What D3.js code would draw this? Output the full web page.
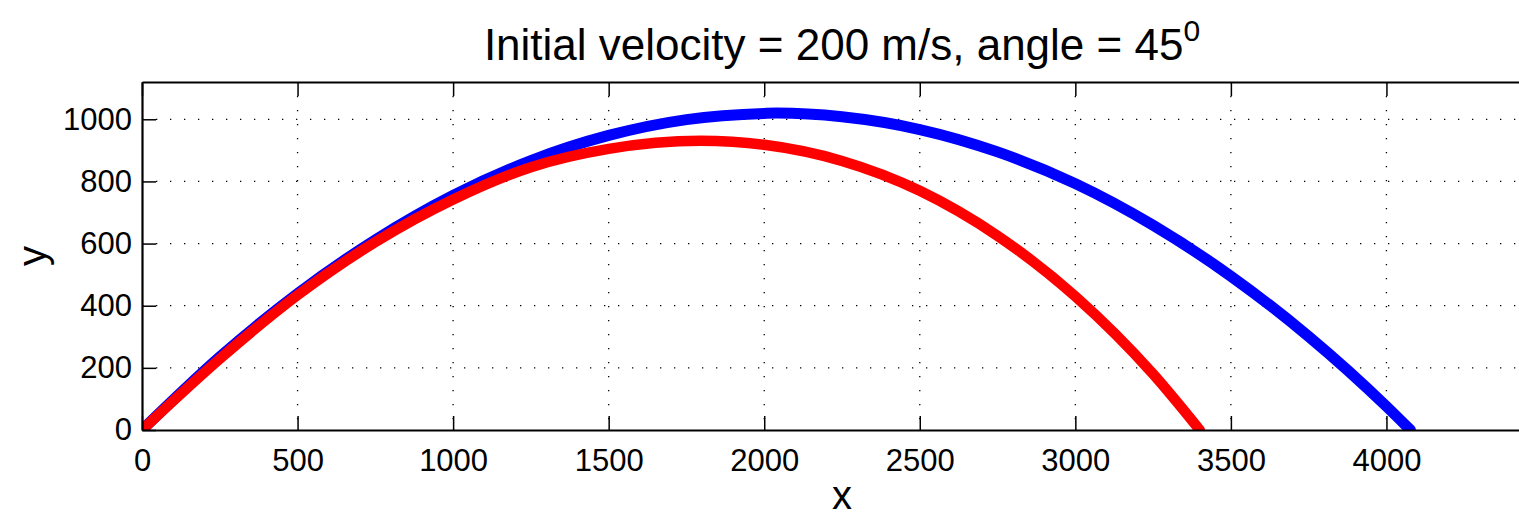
<!DOCTYPE html>
<html>
<head>
<meta charset="utf-8">
<script src="https://cdn.jsdelivr.net/npm/d3@7"></script>
<style>
  body { margin: 0; background: #fff; }
  svg { display: block; font-family: "Liberation Sans", Arial, sans-serif; }
</style>
</head>
<body>
<div id="chart"></div>
<script>
// values (x in m, y in m)
const noDragX = [0, 250, 500, 750, 1000, 1250, 1500, 1750, 2000, 2040, 2250, 2500, 2750, 3000, 3250, 3500, 3750, 4000, 4077];
const noDragY = [0, 235, 439, 612, 755, 867, 948, 999, 1019, 1020, 1008, 967, 895, 793, 659, 495, 301, 76, 0];
const dragX = [0, 250, 500, 750, 1000, 1250, 1500, 1795, 2000, 2250, 2500, 2750, 3000, 3250, 3400];
const dragY = [0, 229, 434, 605, 742, 846, 905, 931, 918, 866, 770, 625, 430, 180, 0];
const xTicks = [0, 500, 1000, 1500, 2000, 2500, 3000, 3500, 4000];
const yTicks = [0, 200, 400, 600, 800, 1000];

const width = 1519, height = 516;
const margin = { left: 142, top: 82, right: -23, bottom: 86 };
const innerW = width - margin.left - margin.right;
const innerH = height - margin.top - margin.bottom;

const x = d3.scaleLinear().domain([0, 4500]).range([0, innerW]);
const y = d3.scaleLinear().domain([0, 1120]).range([innerH, 0]);

const svg = d3.select('#chart').append('svg')
    .attr('width', width)
    .attr('height', height);

svg.append('defs').append('clipPath')
    .attr('id', 'clip')
  .append('rect')
    .attr('width', innerW)
    .attr('height', innerH);

const g = svg.append('g')
    .attr('transform', `translate(${margin.left},${margin.top})`);

// dotted grid
g.selectAll('.gx')
    .data(xTicks.slice(1))
  .enter().append('line')
    .attr('x1', d => x(d)).attr('x2', d => x(d))
    .attr('y1', 0).attr('y2', innerH)
    .attr('stroke', '#000')
    .attr('stroke-width', 1.3)
    .attr('stroke-dasharray', '1.3,12.7');

g.selectAll('.gy')
    .data(yTicks.slice(1))
  .enter().append('line')
    .attr('x1', 0).attr('x2', innerW)
    .attr('y1', d => y(d)).attr('y2', d => y(d))
    .attr('stroke', '#000')
    .attr('stroke-width', 1.3)
    .attr('stroke-dasharray', '1.3,12.7');

// trajectories
const line = d3.line()
    .x(d => x(d[0]))
    .y(d => y(d[1]))
    .curve(d3.curveMonotoneX);

const plot = g.append('g').attr('clip-path', 'url(#clip)');

plot.append('path')
    .datum(d3.zip(noDragX, noDragY))
    .attr('d', line)
    .attr('fill', 'none')
    .attr('stroke', '#0000ff')
    .attr('stroke-width', 11)
    .attr('stroke-linejoin', 'round')
    .attr('stroke-linecap', 'round');

plot.append('path')
    .datum(d3.zip(dragX, dragY))
    .attr('d', line)
    .attr('fill', 'none')
    .attr('stroke', '#ff0000')
    .attr('stroke-width', 10.5)
    .attr('stroke-linejoin', 'round')
    .attr('stroke-linecap', 'round');

// axes, matlab style: ticks inside, box on
const tickLen = 14;
const fmt = d3.format('d');
const xAxis = g.append('g')
    .attr('transform', `translate(0,${innerH})`)
    .call(d3.axisBottom(x).tickValues(xTicks).tickFormat(fmt).tickSizeInner(-tickLen).tickSizeOuter(0).tickPadding(19));
const xTop = g.append('g')
    .call(d3.axisTop(x).tickValues(xTicks).tickSizeInner(-tickLen).tickSizeOuter(0).tickFormat(''));
const yAxis = g.append('g')
    .call(d3.axisLeft(y).tickValues(yTicks).tickFormat(fmt).tickSizeInner(-tickLen).tickSizeOuter(0).tickPadding(10));

[xAxis, xTop, yAxis].forEach(a => {
    a.select('.domain').attr('stroke', '#000').attr('stroke-width', 2.2);
    a.selectAll('.tick line').attr('stroke', '#000').attr('stroke-width', 1.5);
    a.selectAll('text').attr('fill', '#000').attr('font-size', 31)
        .attr('font-family', '"Liberation Sans", Arial, sans-serif');
});

// title and axis labels
const title = svg.append('text')
    .attr('x', margin.left + innerW / 2)
    .attr('y', 60)
    .attr('text-anchor', 'middle')
    .attr('font-size', 44)
    .attr('fill', '#000');
title.append('tspan').text('Initial velocity = 200 m/s, angle = 45');
title.append('tspan').attr('dy', -19).attr('font-size', 30).text('0');

svg.append('text')
    .attr('x', margin.left + innerW / 2)
    .attr('y', 509)
    .attr('text-anchor', 'middle')
    .attr('font-size', 40)
    .attr('fill', '#000')
    .text('x');

svg.append('text')
    .attr('transform', `translate(46,${margin.top + innerH / 2}) rotate(-90)`)
    .attr('text-anchor', 'middle')
    .attr('font-size', 40)
    .attr('fill', '#000')
    .text('y');
</script>
</body>
</html>
